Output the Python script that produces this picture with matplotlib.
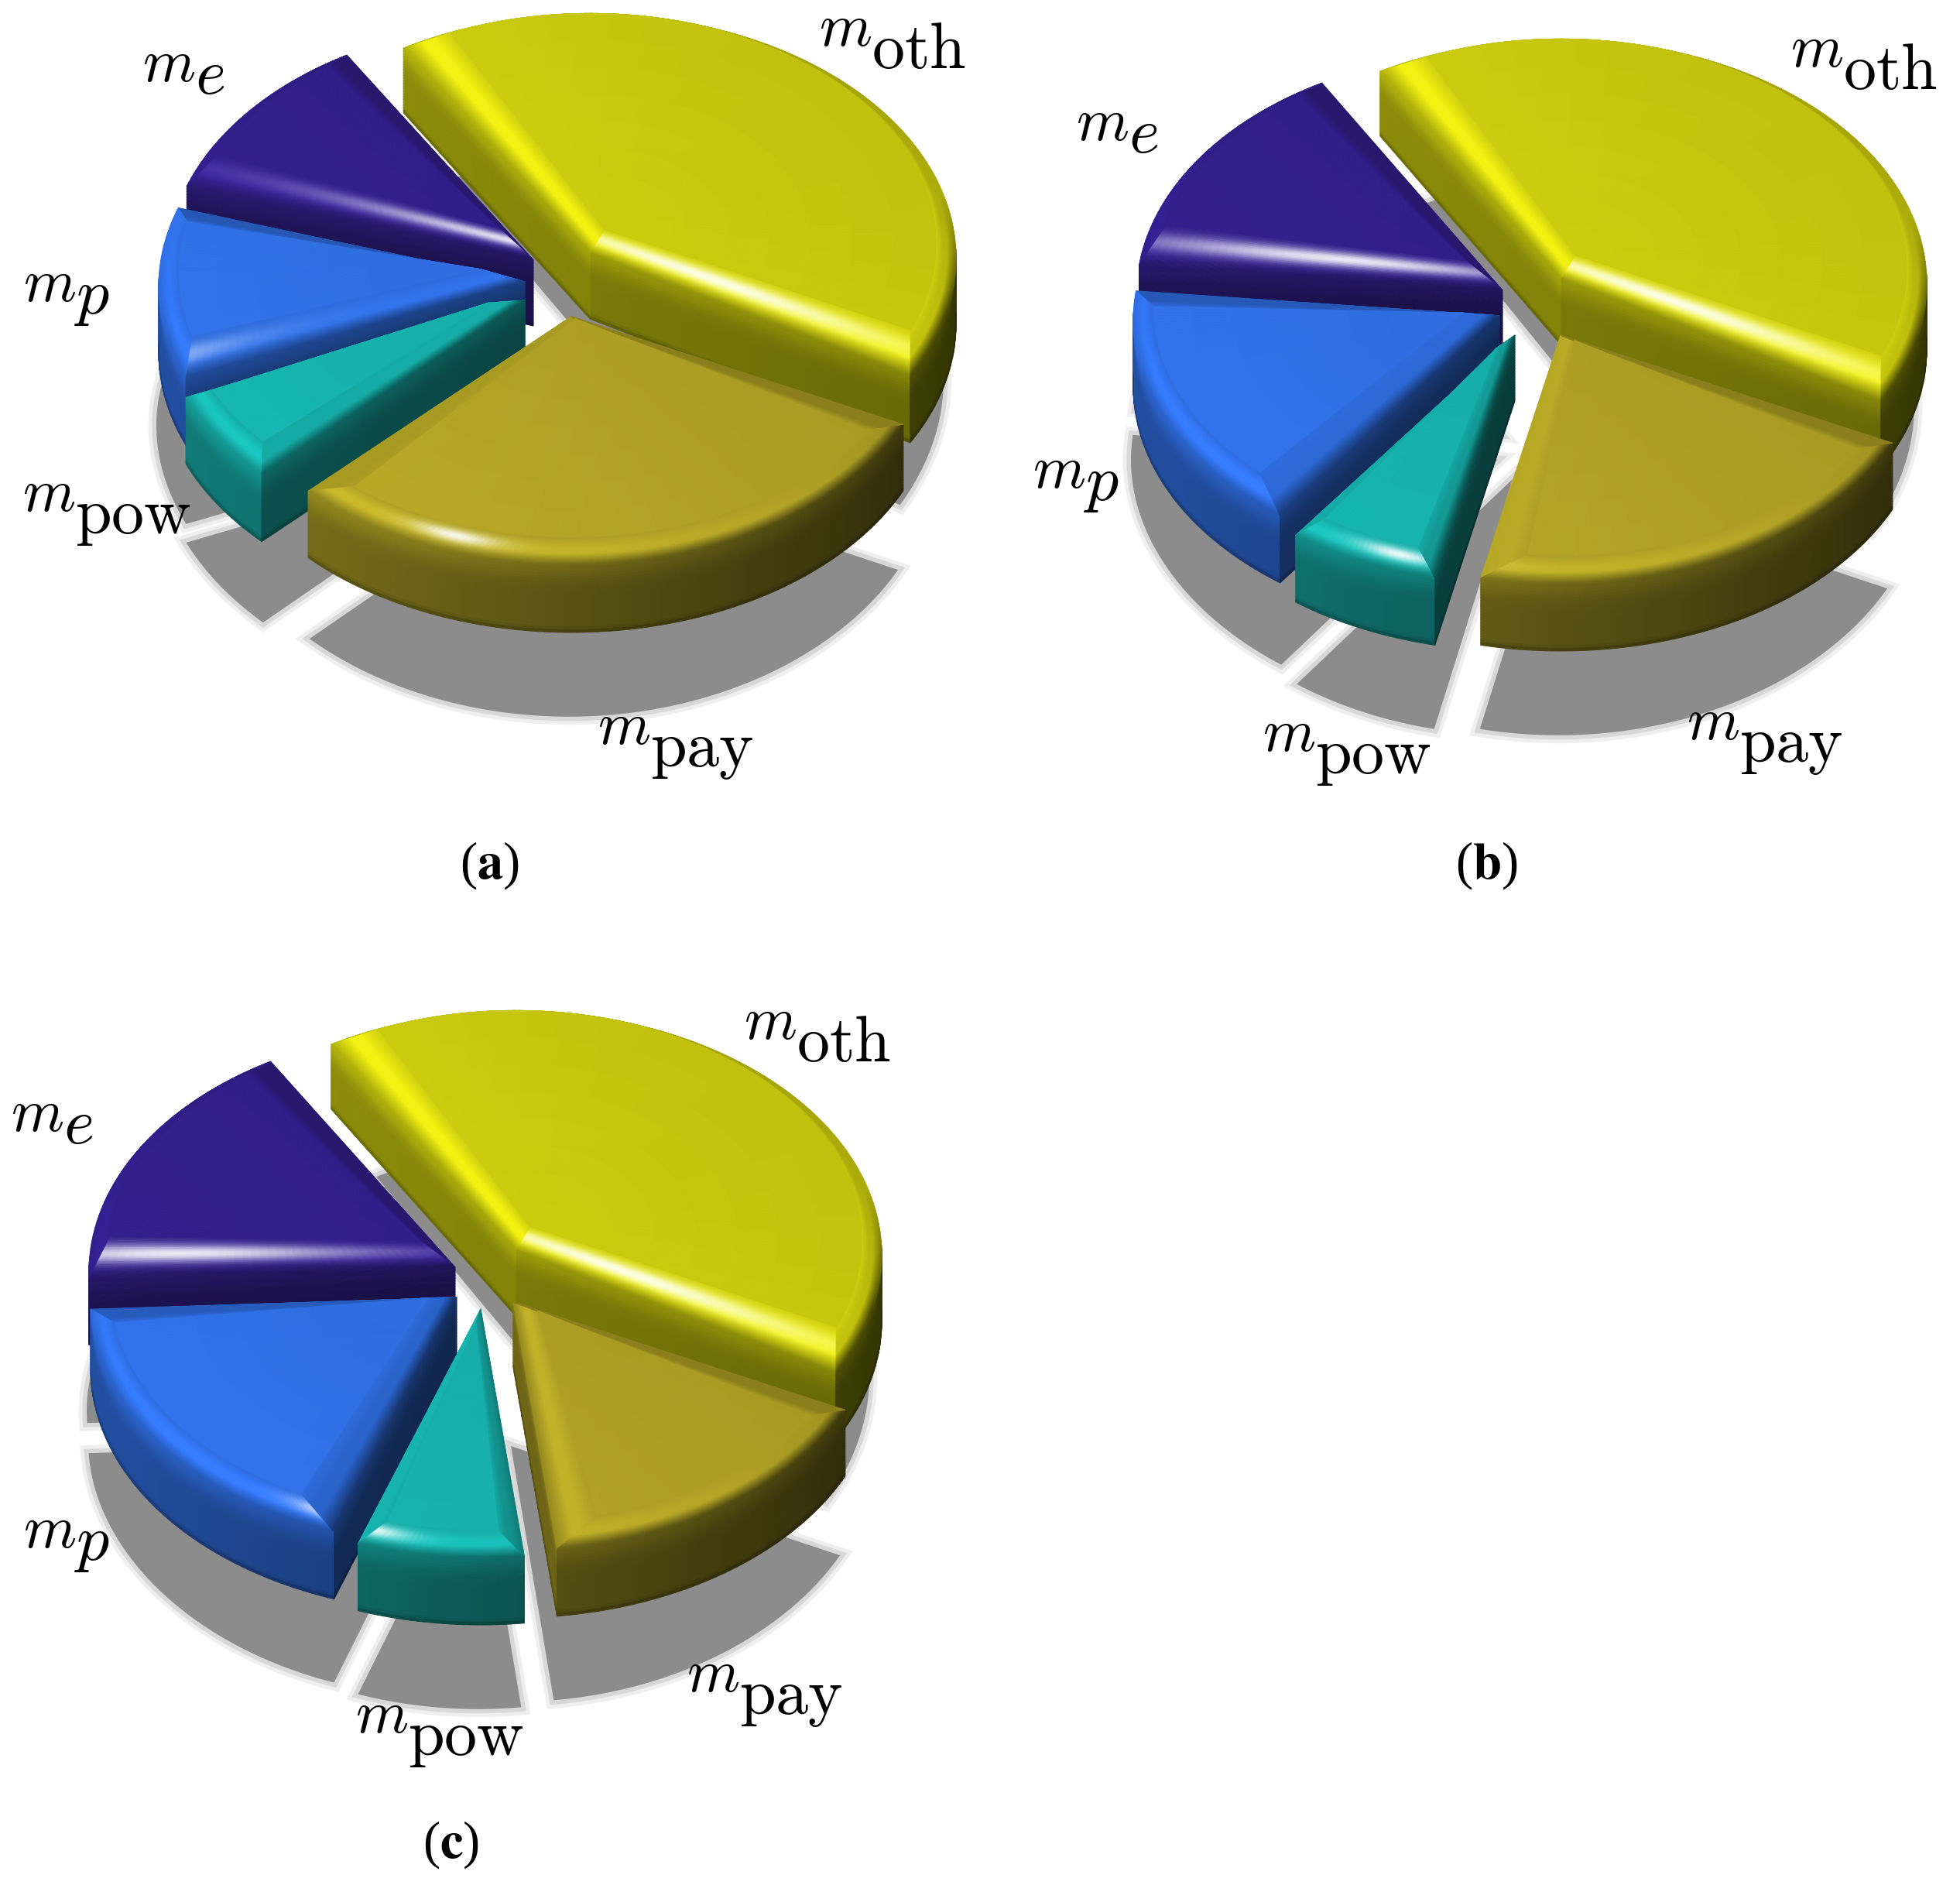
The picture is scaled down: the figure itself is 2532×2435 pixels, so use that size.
import numpy as np
import matplotlib
matplotlib.use("Agg")
import matplotlib.pyplot as plt
import matplotlib._mathtext as mt
from matplotlib.collections import PolyCollection
from matplotlib.patches import Polygon
from matplotlib.text import Text

plt.rcParams['mathtext.fontset'] = 'cm'
mt.SHRINK_FACTOR = 1.08   # the reference sets its subscripts as large as the base letter

# ---------- data (shares in %, order: oth, e, p, pow, pay, counter-clockwise)
names = ["oth", "e", "p", "pow", "pay"]
label_tex = [r"$m_{\mathrm{oth}}$", r"$m_e$", r"$m_p$", r"$m_{\mathrm{pow}}$", r"$m_{\mathrm{pay}}$"]
shares_a = [42.0, 11.4, 11.4, 6.0, 29.2]
shares_b = [41.7, 15.0, 16.6, 6.6, 20.1]
shares_c = [41.9, 17.2, 18.9, 7.2, 14.8]
captions = ["a", "b", "c"]

# ---------- style and layout
base_colors = {"oth": (207, 207, 15), "e": (48, 30, 135), "p": (46, 107, 220),
               "pow": (22, 170, 165), "pay": (172, 158, 36)}
RX, RY, BEV, BEVZ, WALL, PERSP = 473.0, 315.0, 0.055, 18.0, 85.0, 0.02
START = -30.0
PAY_TRIM = 4.0
LIGHT = (-0.6, -2.0)
centers = [(740, 365), (1985, 395), (630, 1650)]
explodes = [
    {"oth": (22, -38), "e": (-51, -29), "p": (-62, -1), "pow": (-62, 23), "pay": (-2, 44)},
    {"oth": (31, -35), "e": (-44, -20), "p": (-48, 13), "pow": (-28, 38), "pay": (31, 38)},
    {"oth": (36, -35), "e": (-42, -13), "p": (-40, 26), "pow": (-9, 41), "pay": (33, 32)},
]
label_pos = [
    {"oth": (1058, 60), "e": (184, 105), "p": (30, 388), "pow": (29, 660), "pay": (772, 961)},
    {"oth": (2313, 87), "e": (1390, 181), "p": (1334, 629), "pow": (1631, 970), "pay": (2179, 955)},
    {"oth": (961, 1343), "e": (14, 1461), "p": (30, 1998), "pow": (459, 2238), "pay": (887, 2185)},
]
label_drop = {"oth": 0.44, "e": 0.25, "p": 0.25, "pow": 0.44, "pay": 0.44}
caption_pos = [(632, 1135), (1920, 1135), (583, 2400)]
DRAW_ORDER = ["oth", "e", "p", "pow", "pay"]


class LabelText(Text):
    """Text whose subscript sits at its own distance below the base letter."""

    def __init__(self, *args, drop=0.25, **kwargs):
        super().__init__(*args, **kwargs)
        self._drop = drop

    def draw(self, renderer):
        mt.FontConstantsBase.sub1 = self._drop
        mt.ComputerModernFontConstants.sub1 = self._drop
        super().draw(renderer)


def cosd(a):
    return np.cos(np.radians(a))


def sind(a):
    return np.sin(np.radians(a))


def project(x, y, z, apex):
    p = 1 - PERSP * y
    return apex[0] + RX * x * p, apex[1] - RY * y * p - z * p


def segments(t0, t1):
    """Outer outline, inset outline and outward normal angle of one slice."""
    span = t1 - t0
    mid = (t0 + t1) / 2
    inset = min(BEV / sind(span / 2), 0.12)
    apex_i = inset * np.array([cosd(mid), sind(mid)])
    delta = min(7.0, span * 0.15)
    ci0 = (1 - BEV) * np.array([cosd(t0 + delta), sind(t0 + delta)])
    ci1 = (1 - BEV) * np.array([cosd(t1 - delta), sind(t1 - delta)])
    u = np.linspace(0, 1, 41)
    segs = []
    O = np.c_[u * cosd(t0), u * sind(t0)]
    I = apex_i + u[:, None] * (ci0 - apex_i)
    segs.append((O, I, np.full(u.size, t0 - 90.0)))
    n = max(int(span), 8) + 1
    t = np.linspace(t0, t1, n)
    ti = np.linspace(t0 + delta, t1 - delta, n)
    O = np.c_[cosd(t), sind(t)]
    I = (1 - BEV) * np.c_[cosd(ti), sind(ti)]
    segs.append((O, I, t))
    O = np.c_[u[::-1] * cosd(t1), u[::-1] * sind(t1)]
    I = apex_i + u[::-1, None] * (ci1 - apex_i)
    segs.append((O, I, np.full(u.size, t1 + 90.0)))
    return segs, apex_i


def wall_color(base, phi, X):
    k = 0.34 + 0.30 * (1 + cosd(phi - 190)) / 2 - 0.09 * X
    return base[None, :] * k[:, None]


def bevel_color(base, phi, X, Y, s, offs):
    k = 0.8 + 0.38 * (1 + cosd(phi - 230)) / 2
    bev = base[None, :] * k[:, None]
    w = np.clip(0.5 - sind(phi) * 2, 0, 1)[:, None]
    wall = wall_color(base, phi, X) * 1.25
    target = bev + (wall - bev) * w
    top = np.tile(base, (phi.size, 1))
    if s < 0.4:
        col = top + (bev - top) * (s / 0.4)
    elif s < 0.6:
        col = bev
    else:
        col = bev + (target - bev) * ((s - 0.6) / 0.4)
    d = np.degrees(np.arctan2(LIGHT[1] - (Y + offs[1]), LIGHT[0] - (X + offs[0])))
    diff = (phi + 4 - d + 180) % 360 - 180
    spec = np.exp(-(diff / 14.0) ** 2) * np.exp(-((s - 0.42) / 0.22) ** 2) * 0.9
    return col + (1 - col) * spec[:, None]


def draw_slice(ax, key, t0, t1, apex, offs, z):
    base = np.array(base_colors[key]) / 255.0
    segs, apex_i = segments(t0, t1)
    wall_rows = np.linspace(0, 1, 25)
    bev_rows = np.linspace(0, 1, 31)
    verts, cols = [], []
    for O, I, phi in segs:
        for a, b in zip(wall_rows[:-1], wall_rows[1:]):
            xa, ya = project(O[:, 0], O[:, 1], -WALL * a, apex)
            xb, yb = project(O[:, 0], O[:, 1], -WALL * b, apex)
            m = (a + b) / 2
            c = wall_color(base, (phi[:-1] + phi[1:]) / 2, (O[:-1, 0] + O[1:, 0]) / 2)
            c = c * (1 + 0.25 * np.exp(-(m / 0.22) ** 2)) * (0.72 + 0.28 * np.clip((1 - m) / 0.08, 0, 1))
            for i in range(len(phi) - 1):
                if sind((phi[i] + phi[i + 1]) / 2) > 0.02:
                    continue
                verts.append([(xa[i], ya[i]), (xa[i + 1], ya[i + 1]), (xb[i + 1], yb[i + 1]), (xb[i], yb[i])])
                cols.append(c[i])
    for O, I, phi in segs:
        for a, b in zip(bev_rows[:-1], bev_rows[1:]):
            Pa = I + (O - I) * a
            Pb = I + (O - I) * b
            xa, ya = project(Pa[:, 0], Pa[:, 1], BEVZ * (1 - a), apex)
            xb, yb = project(Pb[:, 0], Pb[:, 1], BEVZ * (1 - b), apex)
            M = (Pa[:-1] + Pa[1:] + Pb[:-1] + Pb[1:]) / 4
            c = bevel_color(base, (phi[:-1] + phi[1:]) / 2, M[:, 0], M[:, 1], (a + b) / 2, offs)
            for i in range(len(phi) - 1):
                verts.append([(xa[i], ya[i]), (xa[i + 1], ya[i + 1]), (xb[i + 1], yb[i + 1]), (xb[i], yb[i])])
                cols.append(c[i])
    arc_I = segs[1][1]
    rows = np.linspace(0, 1, 9)
    for a, b in zip(rows[:-1], rows[1:]):
        Pa = apex_i + (arc_I - apex_i) * a
        Pb = apex_i + (arc_I - apex_i) * b
        xa, ya = project(Pa[:, 0], Pa[:, 1], BEVZ, apex)
        xb, yb = project(Pb[:, 0], Pb[:, 1], BEVZ, apex)
        for i in range(len(arc_I) - 1):
            X = (Pa[i, 0] + Pb[i, 0]) / 2 + offs[0]
            Y = (Pa[i, 1] + Pb[i, 1]) / 2 + offs[1]
            c = base * (1 - 0.055 * X - 0.04 * Y)
            verts.append([(xa[i], ya[i]), (xa[i + 1], ya[i + 1]), (xb[i + 1], yb[i + 1]), (xb[i], yb[i])])
            cols.append(c)
    cols = np.clip(np.array(cols), 0, 1)
    ax.add_collection(PolyCollection(verts, facecolors=cols, edgecolors=cols, linewidths=0.7, zorder=z))


def draw_shadow(ax, key, t0, t1, apex, z):
    t = np.linspace(t0, t1, 120)
    xs = np.r_[0.0, cosd(t)]
    ys = np.r_[0.0, sind(t)]
    if key == "oth":
        sc, dx, dy = 0.89, 36.0, 164.0
    else:
        sc, dx, dy = 1.0, -3.0, 186.0
    pts = np.c_[apex[0] + dx + sc * RX * xs, apex[1] + dy - RY * ys * (1 - 0.05 * ys)]
    for lw, c in ((15, "#efefef"), (8, "#d8d8d8")):
        ax.add_patch(Polygon(pts, closed=True, facecolor=c, edgecolor=c, linewidth=lw, joinstyle="miter", zorder=z))
    ax.add_patch(Polygon(pts, closed=True, facecolor="#8c8c8c", edgecolor="none", zorder=z + 0.1))


fig = plt.figure(figsize=(25.32, 24.35), dpi=100)
ax = fig.add_axes([0, 0, 1, 1])
ax.set_xlim(0, 2532)
ax.set_ylim(2435, 0)
ax.axis("off")

panels = [shares_a, shares_b, shares_c]
for pi, shares in enumerate(panels):
    total = sum(shares)
    angles = {}
    cur = START
    for nm, sh in zip(names, shares):
        angles[nm] = (cur, cur + sh / total * 360.0)
        cur += sh / total * 360.0
    angles["pay"] = (angles["pay"][0], angles["pay"][1] + PAY_TRIM)
    c = centers[pi]
    apex_of = {nm: (c[0] + explodes[pi][nm][0], c[1] + explodes[pi][nm][1]) for nm in names}
    for j, nm in enumerate(DRAW_ORDER):
        draw_shadow(ax, nm, *angles[nm], apex_of[nm], 2 + pi * 0.01 + j * 0.001)
    for j, nm in enumerate(DRAW_ORDER):
        offs = (explodes[pi][nm][0] / RX, -explodes[pi][nm][1] / RY)
        draw_slice(ax, nm, *angles[nm], apex_of[nm], offs, 10 + pi * 10 + j)
    for nm, tex in zip(names, label_tex):
        lx, ly = label_pos[pi][nm]
        ax.add_artist(LabelText(lx, ly, tex, drop=label_drop[nm], fontsize=56, ha="left",
                                va="baseline", color="black", zorder=60))
    cx, cy = caption_pos[pi]
    ax.text(cx, cy, "($\\mathbf{%s}$)" % captions[pi], fontsize=48, ha="center", va="baseline",
            family="Liberation Serif", math_fontfamily="stix", color="black", zorder=60)

fig.savefig("out.png", dpi=100, facecolor="white")
